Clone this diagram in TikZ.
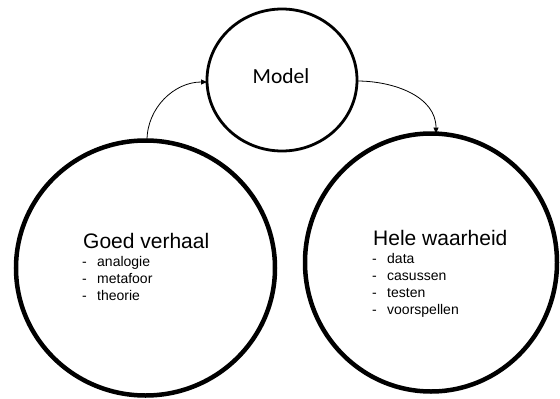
\documentclass[tikz,border=0pt]{standalone}
\usepackage{fontspec}
\setmainfont{Liberation Sans}
\newfontfamily\calfont{Carlito}
\usetikzlibrary{shapes.geometric,arrows.meta}
\tikzset{
  bigcirc/.style={ellipse, draw=black, line width=4.5pt, inner sep=0pt, outer sep=0pt},
  modelcirc/.style={ellipse, draw=black, line width=2.8pt, inner sep=0pt, outer sep=0pt},
  flow/.style={draw=black, line width=0.8pt, -{Triangle[length=6pt,width=5pt]}},
  title/.style={anchor=base west, inner sep=0pt, font=\fontsize{21}{25}\selectfont},
  item/.style={anchor=base west, inner sep=0pt, font=\fontsize{14}{17}\selectfont}
}
\begin{document}
\begin{tikzpicture}[x=1pt,y=-1pt]
\useasboundingbox (0,0) rectangle (560,399);
% circles
\node[modelcirc, minimum width=150pt, minimum height=142pt] (M) at (282,80) {};
\node[bigcirc, minimum width=259pt, minimum height=255pt] (L) at (145.5,268) {};
\node[bigcirc, minimum width=252pt, minimum height=258pt] (R) at (431,262.5) {};
% texts
\node[anchor=base, inner sep=0pt, font=\calfont\fontsize{21.5}{25}\selectfont] (mt) at (281,83) {Model};
\node[title] (gt) at (83,248) {Goed verhaal};
\node[item] (g1d) at (82,266) {-};
\node[item] (g1) at (97,266) {analogie};
\node[item] (g2d) at (82,283) {-};
\node[item] (g2) at (97,283) {metafoor};
\node[item] (g3d) at (82,300) {-};
\node[item] (g3) at (97,300) {theorie};
\node[title] (ht) at (373,245) {Hele waarheid};
\node[item] (h1d) at (372,263) {-};
\node[item] (h1) at (387,263) {data};
\node[item] (h2d) at (372,280) {-};
\node[item] (h2) at (387,280) {casussen};
\node[item] (h3d) at (372,297) {-};
\node[item] (h3) at (387,297) {testen};
\node[item] (h4d) at (372,314) {-};
\node[item] (h4) at (387,314) {voorspellen};
% arrows
\coordinate (a1s) at ([xshift=1.5pt]L.north);
\coordinate (a1e) at ([yshift=-2pt]M.west);
\coordinate (a2s) at ([yshift=-1pt]M.east);
\coordinate (a2e) at ([xshift=5pt]R.north);
\draw[flow] (a1s) to[out=90, in=180] (a1e);
\draw[flow] (a2s) to[out=0, in=90] (a2e);
\end{tikzpicture}
\end{document}
